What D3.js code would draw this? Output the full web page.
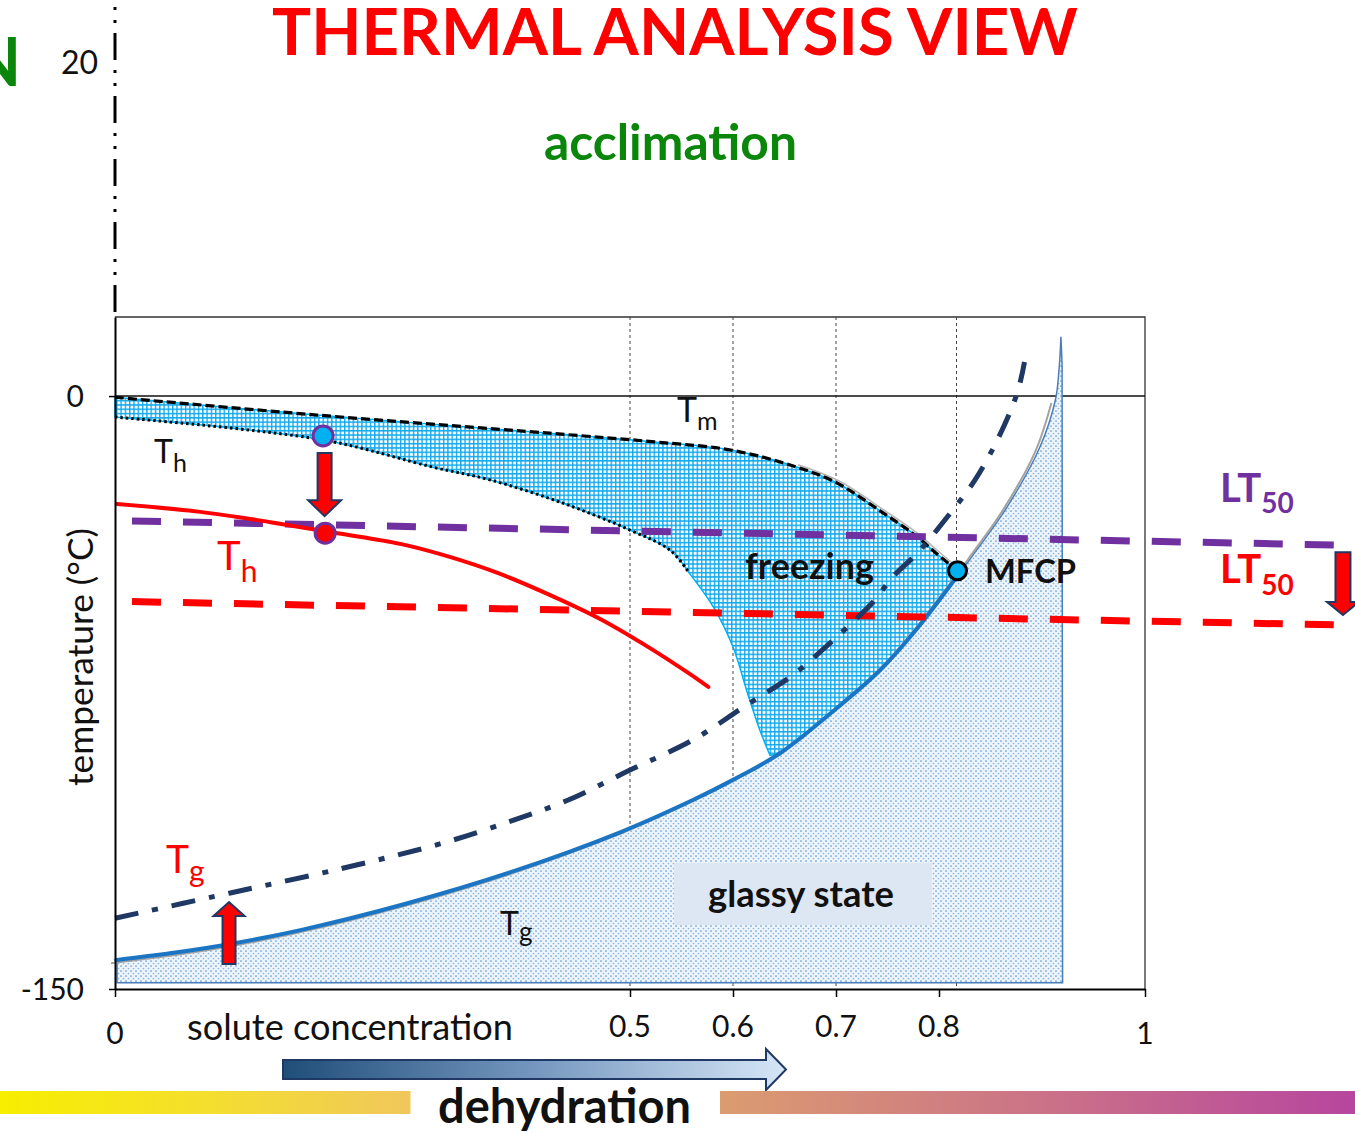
<!DOCTYPE html>
<html>
<head>
<meta charset="utf-8">
<script src="https://cdn.jsdelivr.net/npm/d3@7"></script>
<style>
  body { margin: 0; background: #fff; }
  svg { display: block; font-family: Lato, "Open Sans", sans-serif; }
</style>
</head>
<body>
<svg id="chart" width="1355" height="1133"></svg>
<script>
// values: x = solute concentration (0..1), y = temperature (°C)
const xTicks = [0, 0.5, 0.6, 0.7, 0.8, 1];
const xTickLabels = ["0", "0.5", "0.6", "0.7", "0.8", "1"];
const yTicks = [0, -150];
const yTickLabels = ["0", "-150"];
const gridX = [0.5, 0.6, 0.7, 0.817];

// melting curve (Tm) and homogeneous nucleation (Th) bounding the freezing zone
const tmCurve = [[0, -0.3], [0.196, -4.8], [0.422, -9.4], [0.524, -11.6], [0.599, -13.7], [0.661, -17.9],
  [0.701, -22.0], [0.746, -29.6], [0.777, -35.2], [0.797, -39.7], [0.818, -44.2]];
const thCurve = [[0, -5.3], [0.202, -11.1], [0.309, -18.0], [0.364, -21.2], [0.435, -27.1], [0.5, -33.9],
  [0.539, -39.0], [0.557, -44.6]];
const freezeEdge = [[0.557, -44.6], [0.581, -53.4], [0.6, -63.5], [0.614, -75.1], [0.626, -84.5], [0.636, -90.9]];

// glass transition (Tg), glassy state below it
const tgCurve = [[0, -142.7], [0.055, -140.9], [0.112, -138.6], [0.180, -135.1], [0.284, -128.3], [0.387, -120.2],
  [0.491, -110.3], [0.561, -102.2], [0.6, -97.1], [0.646, -90.3], [0.701, -78.9], [0.743, -69.3], [0.775, -60.0],
  [0.798, -52.4], [0.818, -45.5], [0.833, -40.2], [0.866, -28.1], [0.898, -12.9], [0.913, -1.0], [0.9165, 6.6],
  [0.9184, 15.0]];
const glassFloor = -148.4;
const glassWall = 0.920;
const mfcp = [0.818, -44.2];

// after acclimation
const thAcclimated = [[0.002, -27.3], [0.083, -29.3], [0.151, -31.9], [0.216, -34.7], [0.277, -37.4], [0.325, -40.7],
  [0.374, -45.0], [0.422, -50.3], [0.471, -56.4], [0.519, -63.7], [0.558, -70.3], [0.576, -73.6]];
const tgAcclimated = [[0, -132.1], [0.112, -125.7], [0.222, -119.4], [0.318, -113.1], [0.387, -107.3],
  [0.440, -102.2], [0.5, -94.6], [0.561, -87.0], [0.613, -78.2], [0.658, -70.6], [0.689, -63.7], [0.710, -58.7],
  [0.736, -52.1], [0.755, -45.8], [0.779, -39.7], [0.808, -30.6], [0.835, -21.2], [0.858, -10.4], [0.876, 0.8],
  [0.883, 8.6]];
const lt50Before = [[0.0165, -31.6], [1.189, -37.7]];
const lt50After = [[0.0165, -52.0], [1.189, -57.9]];
const thPoints = [[0.202, -10.1], [0.204, -34.7]];
const thPointColors = ["#00B0F0", "#FF0000"];
// shift arrows: [x, from, to]
const shifts = [[0.2035, -14.4, -30.4], [0.1107, -143.7, -128.0], [1.1922, -39.5, -55.4]];

const svg = d3.select("#chart");
const x = d3.scaleLinear().domain([0, 1]).range([115, 1145]);
const y = d3.scaleLinear().domain([-150, 20]).range([989, 317]);

const smooth = d3.line().x(d => x(d[0])).y(d => y(d[1])).curve(d3.curveCatmullRom.alpha(0.5));
const straight = d3.line().x(d => x(d[0])).y(d => y(d[1]));

// glue several line segments into one closed outline
function outline(...segs) {
  return segs.map(([pts, gen], i) => {
    const p = gen(pts);
    return i ? "L" + p.slice(1) : p;
  }).join("") + "Z";
}

function fitWidth(sel, w) {
  const len = sel.node().getComputedTextLength();
  sel.attr("font-size", parseFloat(sel.attr("font-size")) * w / len);
  return sel;
}

function arrowPath(cx, y0, y1, sw, hw, hl) {
  const s = y1 > y0 ? 1 : -1, yh = y1 - s * hl;
  return `M${cx - sw / 2},${y0}L${cx + sw / 2},${y0}L${cx + sw / 2},${yh}L${cx + hw / 2},${yh}L${cx},${y1}` +
    `L${cx - hw / 2},${yh}L${cx - sw / 2},${yh}Z`;
}

function subLabel(px, py, main, sub, size, subSize, dy, color, weight) {
  const t = svg.append("text").attr("x", px).attr("y", py).attr("fill", color)
    .attr("font-weight", weight || "normal");
  t.append("tspan").attr("font-size", size).text(main);
  t.append("tspan").attr("font-size", subSize).attr("dy", dy).text(sub);
  return t;
}

// defs: patterns and gradients
const defs = svg.append("defs");
const grid = defs.append("pattern").attr("id", "hatch").attr("patternUnits", "userSpaceOnUse")
  .attr("width", 4.3).attr("height", 4.3);
grid.append("rect").attr("width", 4.3).attr("height", 4.3).attr("fill", "#ffffff");
grid.append("path").attr("d", "M0,0.7H4.3M0.7,0V4.3").attr("stroke", "#14AAEC").attr("stroke-width", 1.4);

const dots = defs.append("pattern").attr("id", "stipple").attr("patternUnits", "userSpaceOnUse")
  .attr("width", 5).attr("height", 5);
dots.append("rect").attr("width", 5).attr("height", 5).attr("fill", "#eef4fb");
dots.append("circle").attr("cx", 1).attr("cy", 1).attr("r", 0.85).attr("fill", "#5b9bd5");
dots.append("circle").attr("cx", 3.5).attr("cy", 3.5).attr("r", 0.85).attr("fill", "#86b4e2");

function hGradient(id, stops) {
  const g = defs.append("linearGradient").attr("id", id).attr("x1", 0).attr("x2", 1).attr("y1", 0).attr("y2", 0);
  stops.forEach(([o, c]) => g.append("stop").attr("offset", o).attr("stop-color", c));
}
hGradient("blueArrow", [[0, "#1F4E79"], [0.5, "#7597BF"], [1, "#D6E6F6"]]);
hGradient("yellowBar", [[0, "#F7EE00"], [0.5, "#F4DF2E"], [1, "#F0C75C"]]);
hGradient("pinkBar", [[0, "#DB9C70"], [0.5, "#CB7387"], [1, "#B7469E"]]);

// header
fitWidth(svg.append("text").attr("x", 675).attr("y", 55).attr("text-anchor", "middle")
  .attr("font-size", 70).attr("font-weight", "bold").attr("fill", "#FF0000").text("THERMAL ANALYSIS VIEW"), 806);
fitWidth(svg.append("text").attr("x", 670.5).attr("y", 160).attr("text-anchor", "middle")
  .attr("font-size", 50).attr("font-weight", "bold").attr("fill", "#0A860A").text("acclimation"), 253);
svg.append("text").attr("x", 21).attr("y", 86).attr("text-anchor", "end")
  .attr("font-size", 66).attr("font-weight", "bold").attr("fill", "#0A860A").text("N");
svg.append("text").attr("x", 98).attr("y", 74).attr("text-anchor", "end")
  .attr("font-size", 32).attr("fill", "#111").text("20");
svg.append("line").attr("x1", x(0)).attr("x2", x(0)).attr("y1", 7).attr("y2", 316)
  .attr("stroke", "#000").attr("stroke-width", 3).attr("stroke-dasharray", "3,10,3,10,27,10");

// frame, grid and 0 °C line
svg.append("path").attr("d", `M${x(0)},${y(20)}H${x(1)}V${y(-150)}`)
  .attr("fill", "none").attr("stroke", "#333").attr("stroke-width", 1.3);
svg.selectAll(".grid").data(gridX).join("line").attr("class", "grid")
  .attr("x1", d => x(d)).attr("x2", d => x(d)).attr("y1", y(20)).attr("y2", y(-150))
  .attr("stroke", "#444").attr("stroke-width", 1).attr("stroke-dasharray", "3,3");
svg.append("line").attr("x1", x(0)).attr("x2", x(1)).attr("y1", y(0)).attr("y2", y(0))
  .attr("stroke", "#111").attr("stroke-width", 1.5);

// glassy state
svg.append("path")
  .attr("d", outline([tgCurve, smooth],
    [[[glassWall - 0.0005, 8], [glassWall, glassFloor], [0.002, glassFloor], [0.002, tgCurve[0][1] - 0.5]], straight]))
  .attr("fill", "url(#stipple)").attr("stroke", "#4a7ebb").attr("stroke-width", 1.5);
svg.append("rect").attr("x", 674).attr("y", 863).attr("width", 258).attr("height", 62).attr("fill", "#DCE7F3");
fitWidth(svg.append("text").attr("x", 708).attr("y", 907).attr("font-size", 33).attr("font-weight", "bold")
  .attr("fill", "#111").text("glassy state"), 186);

// freezing zone
const tgUpper = tgCurve.filter(d => d[0] >= 0.646 && d[0] <= 0.818).reverse();
svg.append("path")
  .attr("d", outline([tmCurve, smooth], [tgUpper, smooth], [freezeEdge.slice().reverse(), smooth],
    [thCurve.slice().reverse(), smooth]))
  .attr("fill", "url(#hatch)").attr("stroke", "#00B0F0").attr("stroke-width", 1.5);

// glass transition line with its grey shadow
svg.append("path").attr("d", smooth(tgCurve.filter(d => d[0] <= 0.914)))
  .attr("transform", "translate(-4,3)").attr("fill", "none").attr("stroke", "#a3a3a3").attr("stroke-width", 2);
svg.append("path").attr("d", smooth(tmCurve.filter(d => d[0] >= 0.6)))
  .attr("transform", "translate(2,-2)").attr("fill", "none").attr("stroke", "#b5b5b5").attr("stroke-width", 1.5);
svg.append("path").attr("d", smooth(tgCurve.filter(d => d[0] <= 0.818)))
  .attr("fill", "none").attr("stroke", "#1a75c4").attr("stroke-width", 4);

// Tm and Th
svg.append("path").attr("d", smooth(tmCurve)).attr("fill", "none")
  .attr("stroke", "#000").attr("stroke-width", 3.2).attr("stroke-dasharray", "9,4");
svg.append("path").attr("d", smooth(thCurve)).attr("fill", "none")
  .attr("stroke", "#000").attr("stroke-width", 3).attr("stroke-dasharray", "2.5,3");

// LT50 before / after
svg.append("path").attr("d", straight(lt50Before)).attr("stroke", "#7030A0").attr("stroke-width", 7)
  .attr("stroke-dasharray", "29,22").attr("fill", "none");
svg.append("path").attr("d", straight(lt50After)).attr("stroke", "#FF0000").attr("stroke-width", 7)
  .attr("stroke-dasharray", "29,22").attr("fill", "none");

// acclimated Th and Tg
svg.append("path").attr("d", smooth(thAcclimated)).attr("fill", "none")
  .attr("stroke", "#FF0000").attr("stroke-width", 4).attr("stroke-linecap", "round");
svg.append("path").attr("d", smooth(tgAcclimated)).attr("fill", "none")
  .attr("stroke", "#1F3864").attr("stroke-width", 5).attr("stroke-dasharray", "24,14,6,14");

// shift arrows
const heads = [[14, 33, 16], [13, 31, 14], [15, 32, 13]];
svg.selectAll(".shift").data(shifts).join("path").attr("class", "shift")
  .attr("d", (d, i) => arrowPath(x(d[0]), y(d[1]), y(d[2]), ...heads[i]))
  .attr("fill", "#FF0000").attr("stroke", "#203864").attr("stroke-width", 2).attr("stroke-linejoin", "miter");

// points
svg.selectAll(".thpt").data(thPoints).join("circle").attr("class", "thpt")
  .attr("cx", d => x(d[0])).attr("cy", d => y(d[1])).attr("r", 10)
  .attr("fill", (d, i) => thPointColors[i]).attr("stroke", "#7030A0").attr("stroke-width", 3);
svg.append("circle").attr("cx", x(mfcp[0])).attr("cy", y(mfcp[1])).attr("r", 9)
  .attr("fill", "#00B0F0").attr("stroke", "#000").attr("stroke-width", 3);

// curve labels
subLabel(677, 422, "T", "m", 34, 25, 8, "#111");
subLabel(154, 463, "T", "h", 32, 25, 9, "#111");
subLabel(217, 570, "T", "h", 40, 30, 12, "#FF0000");
subLabel(166, 873, "T", "g", 39, 30, 9, "#FF0000");
subLabel(500, 935, "T", "g", 32, 26, 6, "#111");
subLabel(1220, 502, "LT", "50", 40, 28, 11, "#7030A0", "bold");
subLabel(1220, 583, "LT", "50", 40, 28, 12, "#FF0000", "bold");
fitWidth(svg.append("text").attr("x", 745).attr("y", 579).attr("font-size", 33).attr("font-weight", "bold")
  .attr("fill", "#111").text("freezing"), 129);
fitWidth(svg.append("text").attr("x", 985).attr("y", 583).attr("font-size", 34).attr("font-weight", "bold")
  .attr("fill", "#111").text("MFCP"), 91);

// axes
const xAxis = svg.append("g").attr("transform", `translate(0,${y(-150)})`)
  .call(d3.axisBottom(x).tickValues(xTicks).tickSize(8).tickSizeOuter(0).tickFormat(""));
const yAxis = svg.append("g").attr("transform", `translate(${x(0)},0)`)
  .call(d3.axisLeft(y).tickValues(yTicks).tickSize(6).tickSizeOuter(0).tickFormat(""));
[xAxis, yAxis].forEach(a => {
  a.select(".domain").attr("stroke", "#000").attr("stroke-width", 2);
  a.selectAll(".tick line").attr("stroke", "#000").attr("stroke-width", 1.5);
});
svg.selectAll(".xlab").data(xTicks).join("text").attr("class", "xlab")
  .attr("x", d => x(d)).attr("y", d => (d === 0 || d === 1) ? 1044 : 1037)
  .attr("text-anchor", "middle").attr("font-size", 30).attr("fill", "#111")
  .text((d, i) => xTickLabels[i]);
svg.selectAll(".ylab").data(yTicks).join("text").attr("class", "ylab")
  .attr("x", 84).attr("y", d => y(d) + 11)
  .attr("text-anchor", "end").attr("font-size", 30).attr("fill", "#111")
  .text((d, i) => yTickLabels[i]);
fitWidth(svg.append("text").attr("x", 187).attr("y", 1040).attr("font-size", 31).attr("fill", "#111")
  .text("solute concentration"), 326);
fitWidth(svg.append("text").attr("transform", "translate(93,657) rotate(-90)").attr("text-anchor", "middle")
  .attr("font-size", 30).attr("fill", "#111").text("temperature (°C)"), 258);

// dehydration arrow and colour bars
svg.append("path").attr("d", "M283,1060H766V1049L786,1069.5L766,1090V1079H283Z")
  .attr("fill", "url(#blueArrow)").attr("stroke", "#1F3864").attr("stroke-width", 2);
svg.append("rect").attr("x", 0).attr("y", 1091).attr("width", 410.5).attr("height", 23).attr("fill", "url(#yellowBar)");
svg.append("rect").attr("x", 720).attr("y", 1091).attr("width", 635).attr("height", 23).attr("fill", "url(#pinkBar)");
fitWidth(svg.append("text").attr("x", 438).attr("y", 1123).attr("font-size", 47).attr("font-weight", "bold")
  .attr("fill", "#111").text("dehydration"), 253);
</script>
</body>
</html>
